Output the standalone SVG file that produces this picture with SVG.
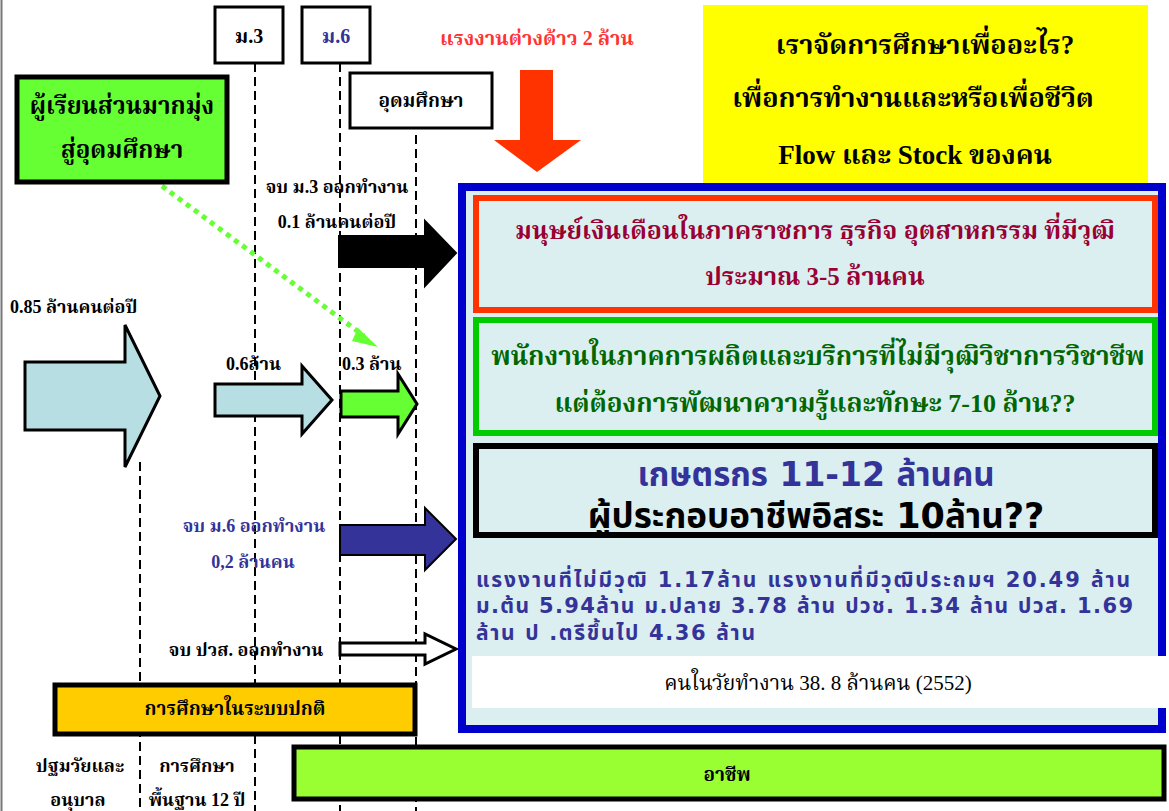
<svg xmlns="http://www.w3.org/2000/svg" width="1169" height="811" viewBox="0 0 1169 811">
<style>
.s{font-family:"Liberation Serif","Noto Serif Thai","Noto Sans Thai",serif;font-weight:bold}
.ss{font-family:"DejaVu Sans","Noto Sans Thai","Liberation Sans",sans-serif;font-weight:bold}
.dash{stroke:#000;stroke-width:2;stroke-dasharray:9,5;fill:none}
.c{text-anchor:middle}
</style>
<rect x="0" y="0" width="1169" height="811" fill="#fff"/>
<line x1="1.5" y1="0" x2="1.5" y2="811" stroke="#777" stroke-width="2"/>
<g id="connectors">
<line class="dash" x1="140" y1="462" x2="140" y2="811"/>
<line class="dash" x1="255" y1="63" x2="255" y2="811"/>
<line class="dash" x1="340" y1="63" x2="340" y2="811"/>
<line class="dash" x1="416" y1="135" x2="416" y2="811"/>
<path d="M25,362 H125 V325 L160,396 L125,467 V430 H25 Z" fill="#b7dee2" stroke="#000" stroke-width="3"/>
<path d="M215,384 H302 V366 L332,400 L302,434 V416 H215 Z" fill="#b7dee2" stroke="#000" stroke-width="3"/>
<path d="M341,391 H398 V374 L417,404 L398,434 V417 H341 Z" fill="#66ff33" stroke="#000" stroke-width="3"/>
<path d="M339,236 H425 V221 L456,253 L425,286 V267 H339 Z" fill="#000" stroke="#000" stroke-width="2"/>
<path d="M340,525 H425 V508 L456,539 L425,570 V555 H340 Z" fill="#333399" stroke="#000" stroke-width="2"/>
<path d="M340,643 H425 V634 L456,649 L425,664 V655 H340 Z" fill="#fff" stroke="#000" stroke-width="3"/>
<path d="M520,70 H553 V140 H581 L537,172 L494,140 H520 Z" fill="#ff3300"/>
<line x1="162" y1="186" x2="364" y2="336" stroke="#66ff33" stroke-width="5" stroke-dasharray="5,5"/>
<path d="M358,328 L378,347 L352,341 Z" fill="#66ff33"/>
</g>
<g id="mo3"><rect x="215" y="7" width="68" height="56" fill="#fff" stroke="#000" stroke-width="3"/><text class="s c" x="249" y="43" font-size="20">ม.3</text></g>
<g id="mo6"><rect x="302" y="7" width="68" height="56" fill="#fff" stroke="#000" stroke-width="3"/><text class="s c" x="336" y="43" font-size="20" fill="#333399">ม.6</text></g>
<g id="udom"><rect x="350" y="73" width="142" height="55" fill="#fff" stroke="#000" stroke-width="3"/><text class="s c" x="421" y="107" font-size="19">อุดมศึกษา</text></g>
<g id="learners"><rect x="17" y="77" width="210" height="105" fill="#66ff33" stroke="#000" stroke-width="5"/><text class="s c" x="122" y="114" font-size="24">ผู้เรียนส่วนมากมุ่ง</text><text class="s c" x="122" y="158" font-size="24">สู่อุดมศึกษา</text></g>
<g id="foreign"><text class="s c" x="537" y="45" font-size="20" fill="#ff3333">แรงงานต่างด้าว 2 ล้าน</text></g>
<g id="question"><rect x="703" y="5" width="445" height="182" fill="#ffff00"/><text class="s c" x="925" y="54" font-size="27">เราจัดการศึกษาเพื่ออะไร?</text><text class="s c" x="913" y="107" font-size="27">เพื่อการทำงานและหรือเพื่อชีวิต</text><text class="s c" x="915" y="164" font-size="27">Flow และ Stock ของคน</text></g>
<g id="labels">
<text class="s" x="10" y="313" font-size="18">0.85 ล้านคนต่อปี</text>
<text class="s" x="226" y="370" font-size="18">0.6ล้าน</text>
<text class="s" x="342" y="370" font-size="18">0.3 ล้าน</text>
<text class="s c" x="337" y="193" font-size="18">จบ ม.3 ออกทำงาน</text>
<text class="s c" x="337" y="228" font-size="18">0.1 ล้านคนต่อปี</text>
<text class="s c" x="254" y="532" font-size="18" fill="#333399">จบ ม.6 ออกทำงาน</text>
<text class="s c" x="253" y="568" font-size="18" fill="#333399">0,2 ล้านคน</text>
<text class="s c" x="246" y="656" font-size="18">จบ ปวส. ออกทำงาน</text>
</g>
<g id="workforce">
<rect x="462" y="187" width="700" height="542" fill="#dbeef0" stroke="#0000cc" stroke-width="8"/>
<g id="salaried"><rect x="476" y="198" width="679" height="112" fill="#dbeef0" stroke="#ff3300" stroke-width="6"/><text class="s c" x="815" y="239" font-size="25" fill="#990033">มนุษย์เงินเดือนในภาคราชการ ธุรกิจ อุตสาหกรรม ที่มีวุฒิ</text><text class="s c" x="815" y="285" font-size="25" fill="#990033">ประมาณ 3-5 ล้านคน</text></g>
<g id="employees"><rect x="476" y="320" width="679" height="113" fill="#dbeef0" stroke="#00cc00" stroke-width="6"/><text class="s c" x="818" y="365" font-size="26" fill="#006600">พนักงานในภาคการผลิตและบริการที่ไม่มีวุฒิวิชาการวิชาชีพ</text><text class="s c" x="815" y="412" font-size="26" fill="#006600">แต่ต้องการพัฒนาความรู้และทักษะ 7-10 ล้าน??</text></g>
<g id="farmers"><rect x="476" y="446" width="679" height="89" fill="#dbeef0" stroke="#000" stroke-width="6"/><text class="ss c" x="816" y="486" font-size="33" fill="#333399">เกษตรกร 11-12 ล้านคน</text><text class="ss c" x="816" y="528" font-size="35">ผู้ประกอบอาชีพอิสระ 10ล้าน??</text></g>
<g id="stats" class="ss" font-size="21" fill="#333399" style="white-space:pre"><text x="476" y="587" textLength="654" lengthAdjust="spacing">แรงงานที่ไม่มีวุฒิ 1.17ล้าน  แรงงานที่มีวุฒิประถมฯ 20.49 ล้าน</text><text x="476" y="613" textLength="657" lengthAdjust="spacing">ม.ต้น 5.94ล้าน ม.ปลาย 3.78 ล้าน  ปวช. 1.34 ล้าน  ปวส. 1.69</text><text x="476" y="640" textLength="279" lengthAdjust="spacing">ล้าน ป .ตรีขึ้นไป 4.36 ล้าน</text></g>
<g id="total"><rect x="472" y="656" width="694" height="52" fill="#fff"/><text class="s c" x="818" y="690" font-size="21" style="font-weight:normal">คนในวัยทำงาน 38. 8 ล้านคน (2552)</text></g>
</g>
<g id="normal"><rect x="55" y="685" width="360" height="49" fill="#ffcc00" stroke="#000" stroke-width="5"/><text class="s c" x="235" y="715" font-size="19">การศึกษาในระบบปกติ</text></g>
<g id="career"><rect x="294" y="747" width="870" height="52" fill="#99ff33" stroke="#000" stroke-width="5"/><text class="s c" x="727" y="781" font-size="19">อาชีพ</text></g>
<g id="bottom">
<text class="s c" x="80" y="772" font-size="18">ปฐมวัยและ</text><text class="s c" x="78" y="806" font-size="18">อนุบาล</text>
<text class="s c" x="197" y="772" font-size="18">การศึกษา</text><text class="s c" x="197" y="806" font-size="18">พื้นฐาน 12 ปี</text>
</g>
</svg>
